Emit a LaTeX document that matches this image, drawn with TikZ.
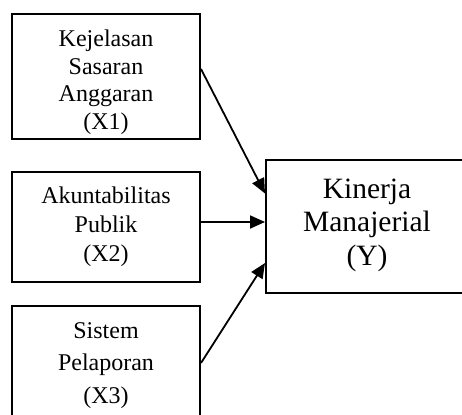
\documentclass[tikz,border=0pt]{standalone}
\usepackage{fontspec}
\setmainfont{Liberation Serif}
\usetikzlibrary{arrows.meta}

\tikzset{
  varbox/.style={rectangle, draw, line width=2pt, minimum width=188pt, minimum height=#1, inner sep=0pt},
  ybox/.style={rectangle, draw, line width=2pt, minimum width=202pt, minimum height=133pt, inner sep=0pt},
  vartext/.style={anchor=base, align=center, inner sep=0pt, font=\fontsize{24}{#1}\selectfont},
  effect/.style={line width=1.8pt, -{Triangle[length=15pt,width=13pt]}}
}

\begin{document}
\begin{tikzpicture}[x=1pt, y=-1pt]
    \useasboundingbox (0,0) rectangle (462,414);
    \clip (0,0) rectangle (462,414);

    % Define the boxes of the independent variables and of Y
    \node[varbox=125pt] (x1) at (106,76.5) {};
    \node[varbox=110pt] (x2) at (106,227) {};
    \node[varbox=112pt] (x3) at (106,362) {};
    \node[ybox] (y) at (367,226.5) {};

    % Texts inside the boxes (base = baseline of the last line)
    \node[vartext=27.5pt] (x1txt) at (106,129.5) {Kejelasan\\Sasaran\\Anggaran\\(X1)};
    \node[vartext=29pt] (x2txt) at (106,261) {Akuntabilitas\\Publik\\(X2)};
    \node[vartext=32.5pt] (x3txt) at (106,403) {Sistem\\Pelaporan\\(X3)};
    \node[anchor=base, align=center, inner sep=0pt, font=\fontsize{29.5}{33.5}\selectfont] (ytxt) at (367,265) {Kinerja\\Manajerial\\(Y)};

    % Draw the arrows from each X to Y
    \draw[effect] ([yshift=7.5pt]x1.east) -- ([yshift=33pt]y.west);
    \draw[effect] ([yshift=5pt]x2.east) -- ([yshift=4.5pt]y.west);
    \draw[effect] ([yshift=-1pt]x3.east) -- ([yshift=-36.5pt]y.west);
\end{tikzpicture}
\end{document}
